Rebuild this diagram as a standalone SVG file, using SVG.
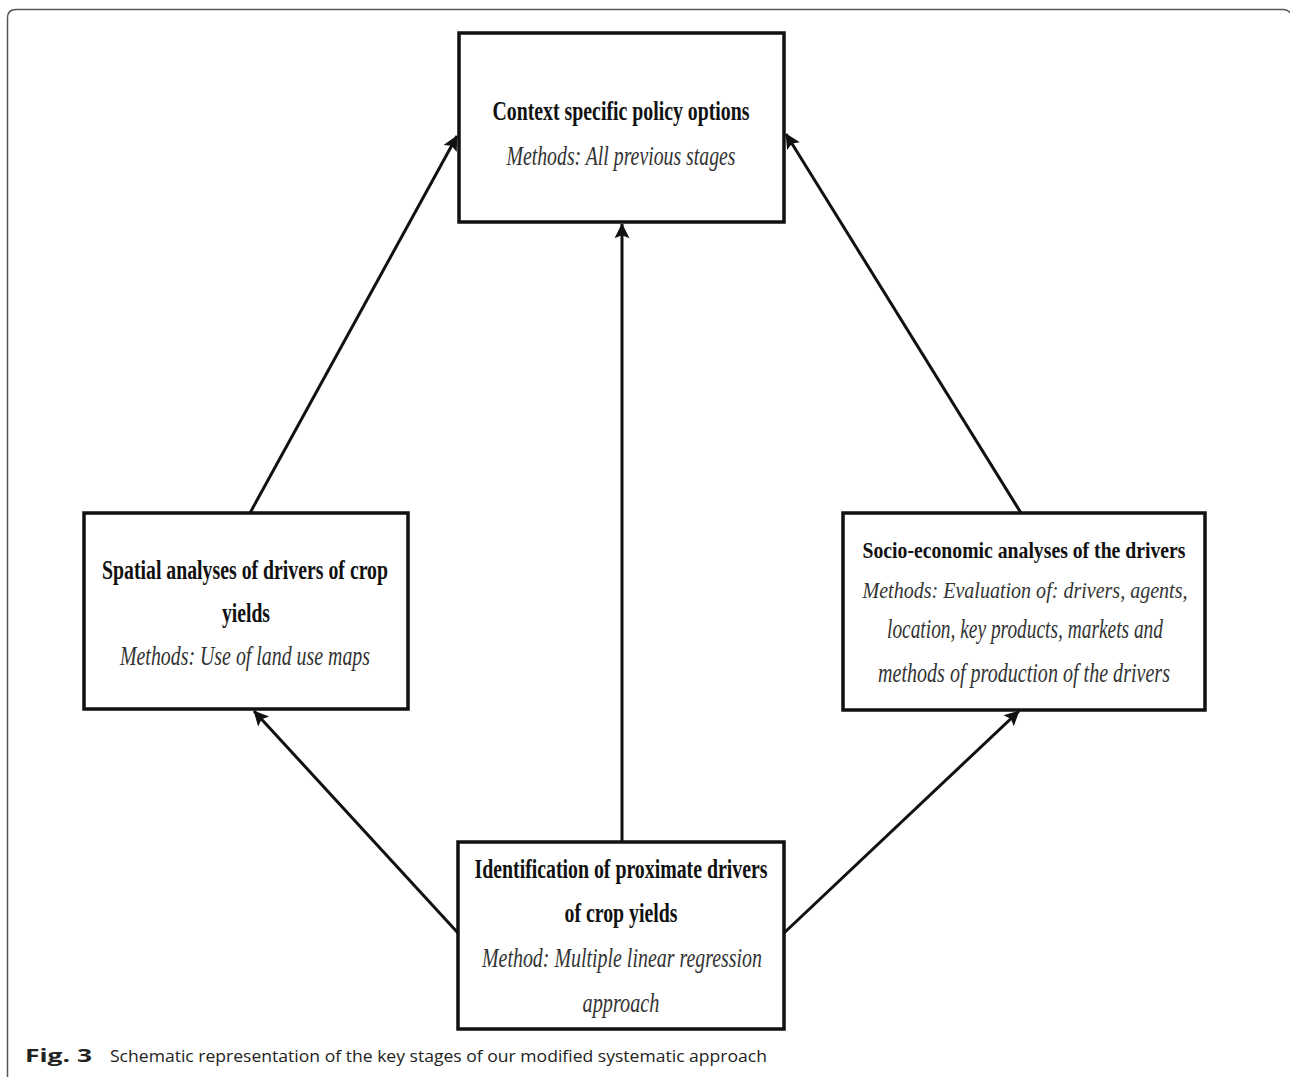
<svg xmlns="http://www.w3.org/2000/svg" width="1290" height="1077" viewBox="0 0 1290 1077">
<style>
.box{fill:#fff;stroke:#111;stroke-width:3.5}
.b{font-family:"Liberation Serif",serif;font-weight:bold;font-size:27px;fill:#111;text-anchor:middle}
.i{font-family:"Liberation Serif",serif;font-style:italic;font-size:27px;fill:#333;text-anchor:middle}
.s{font-size:24px}
.con{stroke:#111;stroke-width:3;fill:none;marker-end:url(#ah)}
.cap{font-family:"Open Sans",sans-serif;font-size:17px;fill:#222}
</style>
<defs>
<marker id="ah" viewBox="0 0 10 10" refX="9.5" refY="5" markerWidth="6" markerHeight="5" orient="auto" markerUnits="strokeWidth">
<path d="M0,0 L10,5 L0,10 L2,5 z" fill="#111"/>
</marker>
</defs>
<rect width="1290" height="1077" fill="#fff"/>
<path d="M7.5,1077 V18 Q7.5,9.5 16,9.5 H1283 Q1288,9.5 1290,13" fill="none" stroke="#555" stroke-width="1.5"/>
<g id="connectors">
<line class="con" x1="622" y1="842" x2="622" y2="224"/>
<line class="con" x1="250" y1="513" x2="457" y2="136"/>
<line class="con" x1="1021" y1="513" x2="786" y2="134"/>
<line class="con" x1="458" y1="933" x2="254" y2="711"/>
<line class="con" x1="784" y1="933" x2="1019" y2="711"/>
</g>
<g id="n-policy">
<rect class="box" x="459" y="33" width="325" height="189"/>
<text class="b" x="621" y="120" textLength="257" lengthAdjust="spacingAndGlyphs">Context specific policy options</text>
<text class="i" x="621" y="165" textLength="229" lengthAdjust="spacingAndGlyphs">Methods: All previous stages</text>
</g>
<g id="n-spatial">
<rect class="box" x="84" y="513" width="324" height="196"/>
<text class="b" x="245" y="579" textLength="286" lengthAdjust="spacingAndGlyphs">Spatial analyses of drivers of crop</text>
<text class="b" x="246" y="622" textLength="48" lengthAdjust="spacingAndGlyphs">yields</text>
<text class="i" x="245" y="665" textLength="250" lengthAdjust="spacingAndGlyphs">Methods: Use of land use maps</text>
</g>
<g id="n-socio">
<rect class="box" x="843" y="513" width="362" height="197"/>
<text class="b s" x="1024" y="558" textLength="323" lengthAdjust="spacingAndGlyphs">Socio-economic analyses of the drivers</text>
<text class="i s" x="1025" y="598" textLength="325" lengthAdjust="spacingAndGlyphs">Methods: Evaluation of: drivers, agents,</text>
<text class="i" x="1025" y="638" textLength="276" lengthAdjust="spacingAndGlyphs">location, key products, markets and</text>
<text class="i" x="1024" y="682" textLength="292" lengthAdjust="spacingAndGlyphs">methods of production of the drivers</text>
</g>
<g id="n-identification">
<rect class="box" x="458" y="842" width="326" height="187"/>
<text class="b" x="621" y="878" textLength="293" lengthAdjust="spacingAndGlyphs">Identification of proximate drivers</text>
<text class="b" x="621" y="922" textLength="113" lengthAdjust="spacingAndGlyphs">of crop yields</text>
<text class="i" x="622" y="967" textLength="280" lengthAdjust="spacingAndGlyphs">Method: Multiple linear regression</text>
<text class="i" x="621" y="1012" textLength="77" lengthAdjust="spacingAndGlyphs">approach</text>
</g>
<g id="caption">
<text class="cap" x="25" y="1062" font-weight="bold" textLength="67" lengthAdjust="spacingAndGlyphs">Fig. 3</text>
<text class="cap" x="110" y="1062" textLength="657" lengthAdjust="spacingAndGlyphs">Schematic representation of the key stages of our modified systematic approach</text>
</g>
</svg>
